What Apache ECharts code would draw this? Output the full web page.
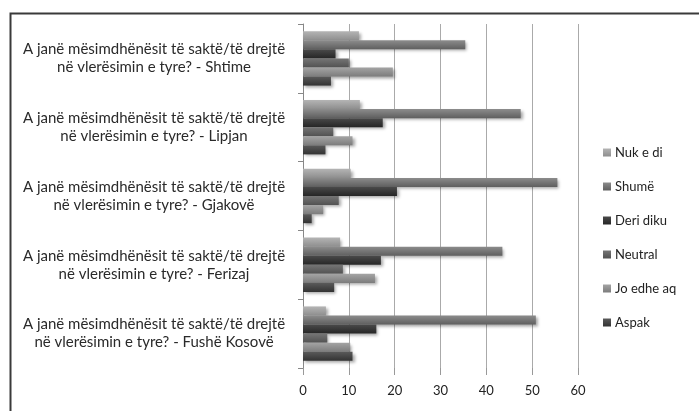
<!DOCTYPE html>
<html>
<head>
<meta charset="utf-8">
<script src="https://cdn.jsdelivr.net/npm/echarts@6/dist/echarts.min.js"></script>
<style>html,body{margin:0;padding:0;background:#fff}#c{width:699px;height:411px}</style>
</head>
<body>
<div id="c"></div>
<script>
const categories = [
  "A janë mësimdhënësit të saktë/të drejtë\nnë vlerësimin e tyre? - Fushë Kosovë",
  "A janë mësimdhënësit të saktë/të drejtë\nnë vlerësimin e tyre? - Ferizaj",
  "A janë mësimdhënësit të saktë/të drejtë\nnë vlerësimin e tyre? - Gjakovë",
  "A janë mësimdhënësit të saktë/të drejtë\nnë vlerësimin e tyre? - Lipjan",
  "A janë mësimdhënësit të saktë/të drejtë\nnë vlerësimin e tyre? - Shtime"
];
const seriesNames = ["Nuk e di", "Shumë", "Deri diku", "Neutral", "Jo edhe aq", "Aspak"];
const nukEDi   = [5.0, 8.1, 10.4, 12.4, 12.2];
const shume    = [50.8, 43.5, 55.5, 47.5, 35.4];
const deriDiku = [16.0, 17.0, 20.5, 17.4, 7.1];
const neutral  = [5.3, 8.7, 7.8, 6.6, 10.0];
const joEdheAq = [10.3, 15.7, 4.4, 10.8, 19.6];
const aspak    = [10.8, 6.8, 1.9, 4.9, 6.1];
const xTicks = [0, 10, 20, 30, 40, 50, 60];

const values = [nukEDi, shume, deriDiku, neutral, joEdheAq, aspak];
const colors = [
  ["#b4b4b4", "#8e8e8e"],
  ["#8c8c8c", "#5f5f5f"],
  ["#4a4a4a", "#262626"],
  ["#757575", "#525252"],
  ["#a4a4a4", "#7c7c7c"],
  ["#5a5a5a", "#333333"]
];
function grad(c) {
  return new echarts.graphic.LinearGradient(0, 0, 0, 1, [
    {offset: 0, color: c[0]}, {offset: 1, color: c[1]}
  ]);
}
const chart = echarts.init(document.getElementById('c'), null, {renderer: 'canvas'});
chart.setOption({
  animation: false,
  backgroundColor: '#fff',
  textStyle: {fontFamily: 'Lato'},
  graphic: [{
    type: 'rect', left: 8, top: 11, shape: {width: 720, height: 440},
    style: {fill: 'none', stroke: '#3a3a3a', lineWidth: 2}
  }],
  legend: {
    orient: 'vertical', left: 598, top: 141, itemWidth: 8, itemHeight: 8, itemGap: 21,
    icon: 'rect',
    data: seriesNames,
    textStyle: {fontFamily: 'Lato', fontSize: 13, color: '#222', padding: [0, 0, 0, -1]}
  },
  grid: {left: 303, right: 121, top: 24, bottom: 43, containLabel: false},
  xAxis: {
    type: 'value', min: xTicks[0], max: xTicks[xTicks.length - 1], interval: 10,
    axisLine: {show: false},
    axisTick: {show: true, length: 7, lineStyle: {color: '#999'}},
    splitLine: {show: true, lineStyle: {color: '#aaa', width: 1}},
    axisLabel: {fontFamily: 'Lato', fontSize: 13, color: '#222', margin: 16}
  },
  yAxis: {
    type: 'category', data: categories,
    axisLine: {show: true, lineStyle: {color: '#888'}},
    axisTick: {show: true, length: 5, lineStyle: {color: '#888'}},
    axisLabel: {fontFamily: 'Lato', fontSize: 15, color: '#2a2a2a', align: 'center', margin: 149, lineHeight: 18}
  },
  series: seriesNames.map((n, i) => ({
    name: n, type: 'bar', data: values[i],
    barGap: '0%', barCategoryGap: '21%',
    z: 2 + i,
    itemStyle: {
      color: grad(colors[i]),
      shadowColor: 'rgba(0,0,0,0.35)', shadowBlur: 3, shadowOffsetX: 2, shadowOffsetY: 2
    }
  }))
});
</script>
</body>
</html>
